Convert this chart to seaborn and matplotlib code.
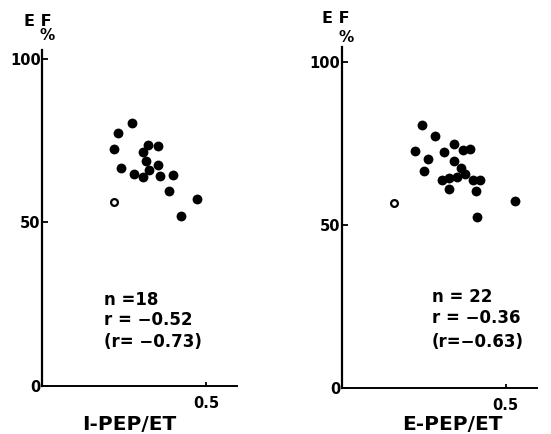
import matplotlib
matplotlib.use("Agg")
import matplotlib.pyplot as plt
import pandas as pd
import seaborn as sns

# ---- data ----
i_x_filled = [0.220, 0.233, 0.275, 0.242, 0.280, 0.307, 0.307, 0.316, 0.323,
              0.328, 0.355, 0.355, 0.361, 0.399, 0.387, 0.423, 0.473]
i_y_filled = [72.5, 77.2, 80.4, 66.7, 64.8, 64.0, 71.4, 68.9, 73.8,
              66.1, 73.3, 67.7, 64.2, 64.5, 59.7, 52.1, 57.3]
i_x_open = [0.219]
i_y_open = [56.3]

e_x_filled = [0.245, 0.284, 0.224, 0.264, 0.251, 0.313, 0.343, 0.369, 0.390,
              0.342, 0.364, 0.377, 0.306, 0.328, 0.351, 0.402, 0.421, 0.327,
              0.409, 0.412, 0.529]
e_y_filled = [80.8, 77.2, 72.8, 70.4, 66.5, 72.4, 74.8, 72.9, 73.4,
              69.6, 67.5, 65.6, 63.9, 64.4, 64.9, 63.8, 63.8, 61.2,
              60.6, 52.6, 57.3]
e_x_open = [0.159]
e_y_open = [56.8]

x_ticks = [0.5]
x_tick_labels = ["0.5"]
y_ticks = [0, 50, 100]
y_tick_labels = ["0", "50", "100"]
x_labels = ["I-PEP/ET", "E-PEP/ET"]
y_label_top = "E F"
y_label_unit = "%"
stats_left = ["n =18", "r = \u22120.52", "(r= \u22120.73)"]
stats_right = ["n = 22", "r = \u22120.36", "(r=\u22120.63)"]

sns.set_style("white")
plt.rcParams["font.family"] = ["DejaVu Sans"]
plt.rcParams["font.weight"] = "bold"
plt.rcParams["text.color"] = "black"
plt.rcParams["axes.labelcolor"] = "black"
plt.rcParams["xtick.color"] = "black"
plt.rcParams["ytick.color"] = "black"

W, H = 551, 434
fig = plt.figure(figsize=(W / 100, H / 100), dpi=100)


def px_axes(x0, y_top, x1, y_bot):
    return fig.add_axes([x0 / W, 1 - y_bot / H, (x1 - x0) / W, (y_bot - y_top) / H])


ax_l = px_axes(42, 50, 237, 386)
ax_r = px_axes(341.7, 47, 536.7, 388.3)

panels = [
    (ax_l, i_x_filled, i_y_filled, i_x_open, i_y_open, x_labels[0], stats_left,
     102.7, 0.19, [26.3, 20.2, 13.5], (129, 424), (37.5, 21), (47, 36)),
    (ax_r, e_x_filled, e_y_filled, e_x_open, e_y_open, x_labels[1], stats_right,
     104.6, 0.275, [28.0, 21.5, 14.2], (452, 424), (336, 18.5), (346, 37)),
]

for (ax, xf, yf, xo, yo, xlab, stats, ytop, sx, sy, xlab_px, ef_px, pct_px) in panels:
    df_f = pd.DataFrame({"x": xf, "y": yf})
    df_o = pd.DataFrame({"x": xo, "y": yo})
    sns.scatterplot(data=df_f, x="x", y="y", ax=ax, color="black", s=50,
                    linewidth=0, zorder=3)
    sns.scatterplot(data=df_o, x="x", y="y", ax=ax, facecolor="white",
                    edgecolor="black", s=24, linewidth=1.6, zorder=3)
    ax.set_xlim(0, 0.595)
    ax.set_ylim(0, ytop)
    ax.set_xticks(x_ticks)
    ax.set_xticklabels(x_tick_labels)
    ax.set_yticks(y_ticks)
    ax.set_yticklabels(y_tick_labels)
    ax.set_xlabel("")
    ax.set_ylabel("")
    sns.despine(ax=ax)
    ax.spines["left"].set_linewidth(1.6)
    ax.spines["bottom"].set_linewidth(1.4)
    ax.spines["left"].set_color("black")
    ax.spines["bottom"].set_color("black")
    ax.tick_params(axis="y", direction="in", length=4, width=1.3, pad=1,
                   labelsize=10.5, colors="black", left=True)
    ax.tick_params(axis="x", direction="in", length=3, width=1.3, pad=7,
                   labelsize=10.5, colors="black", bottom=True)
    for lab in ax.get_xticklabels() + ax.get_yticklabels():
        lab.set_fontweight("bold")
    for txt, yy in zip(stats, sy):
        ax.text(sx, yy, txt, fontsize=12, fontweight="bold", ha="left",
                va="center", color="black")
    fig.text(xlab_px[0] / W, 1 - xlab_px[1] / H, xlab, fontsize=14.5,
             fontweight="bold", ha="center", va="center", color="black")
    fig.text(ef_px[0] / W, 1 - ef_px[1] / H, y_label_top, fontsize=11.5,
             fontweight="bold", ha="center", va="center", color="black")
    fig.text(pct_px[0] / W, 1 - pct_px[1] / H, y_label_unit, fontsize=11,
             fontweight="bold", ha="center", va="center", color="black")

fig.savefig("out.png", dpi=100)
